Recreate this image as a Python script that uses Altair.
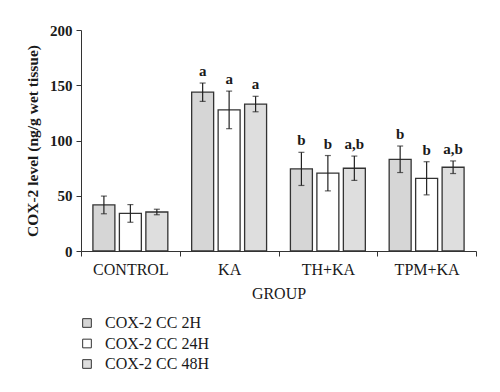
import altair as alt
import pandas as pd

groups = ["CONTROL", "KA", "TH+KA", "TPM+KA"]
series = ["COX-2 CC 2H", "COX-2 CC 24H", "COX-2 CC 48H"]
means = [
    [41.7, 34.0, 35.3],
    [143.7, 127.7, 133.0],
    [74.3, 70.4, 74.9],
    [83.0, 65.8, 75.8],
]
errs = [
    [8.0, 8.0, 2.5],
    [8.3, 17.0, 7.0],
    [15.0, 16.0, 11.0],
    [12.0, 15.0, 5.7],
]
letters = [
    ["", "", ""],
    ["a", "a", "a"],
    ["b", "b", "a,b"],
    ["b", "b", "a,b"],
]

rows = []
for gi, g in enumerate(groups):
    for si, s in enumerate(series):
        m = means[gi][si]
        e = errs[gi][si]
        rows.append({"group": g, "series": s, "mean": m, "lo": m - e, "hi": m + e,
                     "label": letters[gi][si]})
df = pd.DataFrame(rows)

FONT = "Liberation Serif"
fills = ["#d6d6d6", "#ffffff", "#dedede"]

x = alt.X("group:N", sort=groups, scale=alt.Scale(paddingInner=0, paddingOuter=0),
          axis=alt.Axis(title="GROUP", labelAngle=0, tickBand="extent", tickSize=5,
                        labelPadding=5, titlePadding=8, domainColor="#333333",
                        tickColor="#333333", labelFont=FONT, labelFontSize=16,
                        labelFontWeight="normal", labelColor="#1a1a1a",
                        titleFont=FONT, titleFontSize=16, titleFontWeight="normal",
                        titleColor="#1a1a1a"))
xo = alt.XOffset("series:N", sort=series,
                 scale=alt.Scale(paddingInner=0.17, paddingOuter=0.45))
y = alt.Y("mean:Q", scale=alt.Scale(domain=[0, 200]),
          axis=alt.Axis(title="COX-2 level (ng/g wet tissue)", values=[0, 50, 100, 150, 200],
                        grid=False, tickSize=5, labelPadding=4, titlePadding=9,
                        domainColor="#333333", tickColor="#333333",
                        labelFont=FONT, labelFontSize=15, labelFontWeight="bold",
                        labelColor="#1a1a1a", titleFont=FONT, titleFontSize=15.5,
                        titleFontWeight="bold", titleColor="#1a1a1a"))

base = alt.Chart(df)

bars = base.mark_bar(stroke="#333333", strokeWidth=1.3).encode(
    x=x, xOffset=xo, y=y,
    fill=alt.Fill("series:N", sort=series,
                  scale=alt.Scale(domain=series, range=fills),
                  legend=alt.Legend(title=None, orient="none", legendX=-2, legendY=285,
                                    symbolType="square", symbolSize=75,
                                    symbolStrokeColor="#333333", symbolStrokeWidth=1,
                                    labelFont=FONT, labelFontSize=16, labelColor="#1a1a1a",
                                    labelOffset=10, rowPadding=4.5)),
)

rule = base.mark_rule(color="#222222", strokeWidth=1.2).encode(
    x=alt.X("group:N", sort=groups), xOffset=alt.XOffset("series:N", sort=series),
    y="lo:Q", y2="hi:Q")
cap_lo = base.mark_tick(color="#222222", thickness=1.2, size=6, orient="horizontal").encode(
    x=alt.X("group:N", sort=groups), xOffset=alt.XOffset("series:N", sort=series), y="lo:Q")
cap_hi = base.mark_tick(color="#222222", thickness=1.2, size=6, orient="horizontal").encode(
    x=alt.X("group:N", sort=groups), xOffset=alt.XOffset("series:N", sort=series), y="hi:Q")
text = base.mark_text(font=FONT, fontSize=15, fontWeight="bold", baseline="bottom",
                      dy=-4, color="#1a1a1a").encode(
    x=alt.X("group:N", sort=groups), xOffset=alt.XOffset("series:N", sort=series),
    y="hi:Q", text="label:N")

chart = alt.layer(bars, rule, cap_lo, cap_hi, text).properties(
    width=395, height=221,
    autosize=alt.AutoSizeParams(type="none"),
    padding={"left": 73, "top": 22, "right": 16, "bottom": 133},
).configure_view(stroke=None).configure_scale(bandPaddingInner=0)

chart.save("out.html", embed_options={"renderer": "svg", "actions": False})
